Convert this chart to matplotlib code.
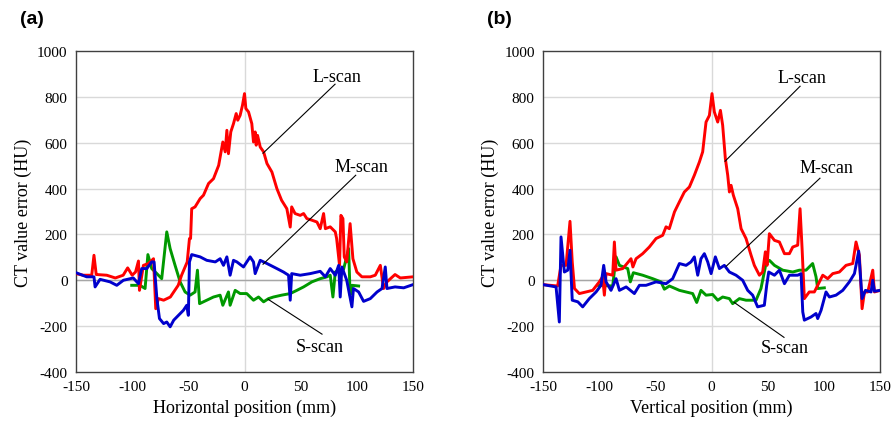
import numpy as np
import matplotlib
matplotlib.use("Agg")
import matplotlib.pyplot as plt

plt.rcParams["axes.unicode_minus"] = False

# ---- panel (a): horizontal profiles ----
a_l_x = [-150, -143.5, -136, -134, -132, -131.5, -122.6, -115, -108, -104, -100, -97, -94.4, -93.5, -90, -85.5,
         -81, -79, -76.6, -72, -66, -63, -59, -56, -51, -49, -48, -47, -44, -39.5, -36.5, -32, -27.6, -23,
         -19.3, -17.2, -15.7, -14.3, -12.2, -9.8, -7.4, -6, -3.9, -1.8, 0, 1.2, 3.6, 6.5, 8, 9.5, 10.4, 11.6,
         14, 17, 20, 24.4, 28.8, 33, 37.7, 40.7, 42, 45, 49.6, 52.6, 55.5, 60, 64.5, 67.4, 70.4, 72, 76.3,
         80.8, 82, 84.6, 85.8, 87.6, 88.8, 91, 94, 96.5, 100, 104.5, 112, 116.4, 120.9, 123.8, 126.8, 134,
         138.7, 150]
a_l_y = [29, 22, 22, 109, 25, 25, 22, 10, 22, 54, 22, 36, 84, -44, 65, 73,
         94, -124, -80, -87, -73, -51, -22, 22, 80, 182, 182, 312, 320, 356, 371, 422, 443, 501,
         603, 560, 654, 552, 647, 683, 727, 698, 719, 763, 814, 749, 734, 683, 603, 647, 589, 632,
         581, 560, 509, 472, 400, 349, 312, 232, 320, 291, 283, 291, 269, 262, 254, 225, 291, 225, 233,
         211, 182, 65, 283, 269, 102, 80, 247, 94, 36, 15, 15, 22, 65, -36, -7, 25,
         10, 15]

a_m_x = [-150, -140.5, -134, -133, -128.6, -119.7, -113.7, -107.8, -99, -94.4, -91.5, -87, -82.6, -80.5, -78,
         -75.7, -72, -69.2, -66.2, -63, -58.8, -54.4, -51.4, -50, -49, -47, -39.5, -33.6, -26, -21.7, -18.7,
         -15.7, -12.8, -9.8, -6.8, -0.9, 5, 8, 9.5, 14, 20, 28.8, 34.7, 39.2, 40.7, 42, 49.6, 58.5, 67.4,
         72, 76.3, 80.8, 83.8, 85.2, 86.7, 91, 95.6, 97, 101.6, 106, 112, 118, 122.4, 125.3, 126.8, 134,
         141.7, 150]
a_m_y = [33, 15, 15, -29, 4, -7, -22, 0, 10, -15, 51, 51, 80, 80, -80,
         -167, -189, -182, -203, -174, -153, -131, -109, -153, 80, 112, 102, 87, 80, 94, 65,
         102, 22, 87, 80, 58, 102, 80, 29, 87, 73, 51, 36, 22, -87, 29, 22, 29, 39,
         15, 51, 22, 65, -73, 58, 0, -116, -36, -51, -92, -80, -51, -36, 58, -36, -29,
         -33, -19]

a_s_x = [-100.4, -93, -88.5, -86, -82.6, -78, -73.7, -69.2, -66.2, -61.8, -57.3, -52.9, -48.4, -44, -41.9,
         -40, -33.6, -27.6, -21.7, -19.3, -14.3, -12.8, -8.3, -3.9, 2, 8, 12.5, 17, 21.4, 25.8, 33, 40.7,
         46.6, 52.6, 60, 67.4, 73.4, 76.3, 78.7, 80.8, 83.8, 88.2, 92.7, 94, 95.6, 101.6]
a_s_y = [-22, -22, -36, 112, 51, 29, 7, 211, 138, 65, -7, -51, -65, -51, 44,
         -102, -87, -73, -65, -109, -51, -109, -44, -58, -58, -87, -73, -94, -80, -73, -65, -58,
         -44, -29, -7, 7, 15, 22, -73, 36, 44, 48, 138, -65, -22, -25]

# ---- panel (b): vertical profiles ----
b_l_x = [-150, -137, -134, -129.5, -126, -124, -122, -117.7, -111.7, -105.8, -99.9, -97, -95.4, -93.9, -88,
         -86.5, -85, -79, -71.7, -70, -67.2, -61.3, -55.4, -49.4, -43.5, -40.5, -37.6, -33, -28.6, -24.2,
         -19.7, -15.3, -10.8, -7.9, -4.9, -1.9, 0.4, 2.5, 5.5, 7.9, 9.9, 12.3, 14.4, 15.9, 17.4, 19.4, 23.3,
         26.3, 30.7, 35.2, 38.1, 42.6, 45.5, 47.9, 49.4, 51.5, 56, 60.4, 64.9, 69.3, 72.3, 76.7, 78.8, 80.6,
         82.6, 87, 91.5, 94.5, 99, 103.4, 107.9, 113.8, 119.7, 125.7, 128.6, 131.6, 134, 136.1, 139.1,
         143.5, 145, 150]
b_l_y = [-19, -25, 65, 65, 257, 80, -36, -58, -51, -44, -7, 15, -65, 29, 22,
         167, 44, 51, 94, 58, 94, 116, 145, 182, 196, 233, 225, 298, 342, 385,
         407, 458, 516, 560, 690, 719, 814, 734, 690, 741, 676, 530, 458, 385, 414, 371, 312,
         225, 182, 109, 65, 22, 36, 124, 65, 203, 174, 167, 116, 116, 145, 153, 312, 138,
         -80, -51, -51, -22, 22, 7, 29, 36, 65, 73, 167, 109, -124, -51, -51,
         44, -51, -44]

b_m_x = [-150, -138.4, -135.5, -134, -131, -128, -126, -124, -119, -114.7, -108.8, -102.8, -98.4, -96, -93.9,
         -89.5, -85, -82, -76, -68.7, -64.2, -58.3, -49.4, -40.5, -34.6, -28.6, -22.7, -18.3, -15.3, -12.3,
         -9.4, -6.4, -3.4, -0.4, 3.4, 7, 11.4, 15.9, 21.8, 27.7, 32.2, 36.6, 41, 47, 49.1, 50.9, 56, 60.4,
         64.9, 69.3, 76.7, 79.7, 81.2, 82.6, 88.6, 93, 94.5, 97.5, 101.9, 104.9, 110.8, 116.8, 122.7, 127.2,
         131, 134, 137, 142, 143.5, 145, 150]
b_m_y = [-19, -29, -182, 189, 36, 44, 131, -87, -94, -116, -80, -51, -22, 65, -7,
         -44, 7, -44, -29, -58, -22, -22, -7, -15, 7, 73, 65, 80, 102, 22,
         94, 116, 80, 29, 102, 51, 65, 36, 22, 0, -44, -65, -116, -109, -22, 36, 22, 44,
         -15, 22, 22, 29, -138, -174, -160, -145, -167, -131, -51, -73, -65, -44, -7, 29,
         127, -80, -44, -51, 0, -48, -44]

b_s_x = [-101.3, -88, -85, -82, -74.6, -72.3, -69.6, -61.3, -52.4, -45, -42, -37.5, -28.6, -22.7, -16.8,
         -13.2, -9.4, -4.9, 1, 5.5, 9.9, 15.9, 18.8, 24.8, 30.7, 39.6, 44, 48.5, 51.5, 56, 63.4, 72.3,
         78.2, 84.1, 90, 93, 94.5, 100.4]
b_s_y = [-22, -25, 102, 65, 51, -7, 33, 22, 7, -7, -39, -25, -44, -51, -58,
         -97, -44, -65, -62, -87, -73, -80, -102, -80, -87, -87, -36, 73, 87, 65, 44, 36,
         44, 44, 73, 15, -36, -33]

panels = [
    ("(a)", "Horizontal position (mm)", (a_l_x, a_l_y), (a_m_x, a_m_y), (a_s_x, a_s_y),
     [((82, 890), (80.6, 855), (16.5, 554)),
      ((104, 497), (99, 458), (16.5, 70)),
      ((67, -288), (69, -235), (21, -83))]),
    ("(b)", "Vertical position (mm)", (b_l_x, b_l_y), (b_m_x, b_m_y), (b_s_x, b_s_y),
     [((80.6, 885), (78.8, 846), (12, 519)),
      ((102, 492), (96.5, 445), (13, 61)),
      ((65, -292), (64.5, -249), (20, -96))]),
]
names = ["L-scan", "M-scan", "S-scan"]

serif = "Liberation Serif"
fig = plt.figure(figsize=(8.93, 4.27), dpi=100)
lefts = [0.0851, 0.6081]
label_x = [0.036, 0.559]

for i, (tag, xlabel, L, M, S, notes) in enumerate(panels):
    ax = fig.add_axes([lefts[i], 0.1265, 0.3774, 0.7518])
    ax.set_xlim(-150, 150)
    ax.set_ylim(-400, 1000)
    ax.set_xticks(np.arange(-150, 151, 50))
    ax.set_yticks(np.arange(-400, 1001, 200))
    for yv in range(-200, 1000, 200):
        ax.axhline(yv, color="#d9d9d9", lw=1.0, zorder=0)
    ax.axvline(0, color="#d9d9d9", lw=1.0, zorder=0)
    ax.axhline(0, color="#a6a6a6", lw=1.0, zorder=0)

    ax.plot(S[0], S[1], color="#009900", lw=2.1, zorder=2)
    ax.plot(L[0], L[1], color="#ff0000", lw=2.1, zorder=3)
    ax.plot(M[0], M[1], color="#0000cc", lw=2.1, zorder=4)

    for name, (txt, p0, p1) in zip(names, notes):
        ax.text(txt[0], txt[1], name, fontsize=13, family=serif, ha="center", va="center")
        ax.plot([p0[0], p1[0]], [p0[1], p1[1]], color="black", lw=0.8, zorder=5)

    for sp in ax.spines.values():
        sp.set_color("#404040")
        sp.set_linewidth(1.0)
    ax.tick_params(length=0, labelsize=11, pad=6)
    for lab in ax.get_xticklabels() + ax.get_yticklabels():
        lab.set_family(serif)
    ax.set_xlabel(xlabel, fontsize=13, family=serif, labelpad=4)
    ax.set_ylabel("CT value error (HU)", fontsize=13, family=serif, labelpad=4)

    fig.text(label_x[i], 0.955, tag, fontsize=14, fontweight="bold",
             family="Liberation Sans", ha="center", va="center")

fig.savefig("out.png", dpi=100)
